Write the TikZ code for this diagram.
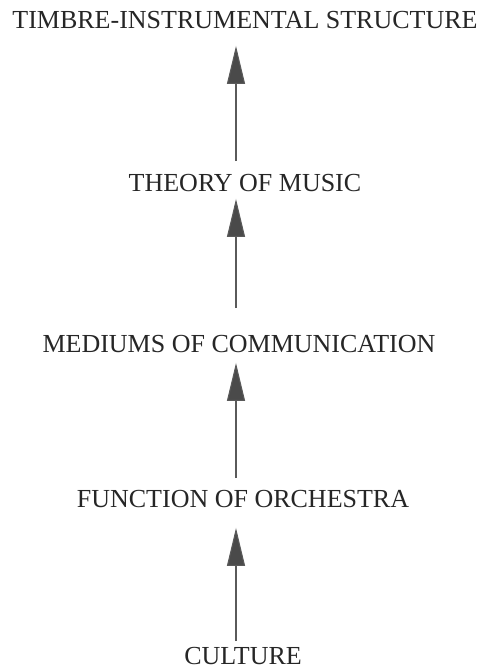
\documentclass[tikz,border=0pt]{standalone}
\usepackage{fontspec}
\setmainfont{Liberation Serif}
\usetikzlibrary{arrows.meta}
\definecolor{ink}{HTML}{262626}
\definecolor{shaft}{HTML}{5A5A5A}
\definecolor{head}{HTML}{4A4A4A}
\begin{document}
\begin{tikzpicture}[x=1pt,y=-1pt,
  lab/.style={inner sep=0pt, text=ink, font=\fontsize{26}{30}\selectfont},
  uparrow/.style={draw=shaft, line width=1.1pt,
    -{Triangle[length=38pt,width=18pt,fill=head]}}]
\useasboundingbox (0,0) rectangle (482,670);
\coordinate (ax) at (236,0);
\node[lab] (t1) at (245,20) {TIMBRE-INSTRUMENTAL STRUCTURE};
\node[lab] (t2) at (245,183) {THEORY OF MUSIC};
\node[lab] (t3) at (239,344) {MEDIUMS OF COMMUNICATION};
\node[lab] (t4) at (243,499) {FUNCTION OF ORCHESTRA};
\node[lab] (t5) at (243,656) {CULTURE};
\draw[uparrow, shorten <=13pt, shorten >=17pt] (t2.north -| ax) -- (t1.south -| ax);
\draw[uparrow, shorten <=27pt, shorten >=7pt] (t3.north -| ax) -- (t2.south -| ax);
\draw[uparrow, shorten <=12pt, shorten >=10pt] (t4.north -| ax) -- (t3.south -| ax);
\draw[uparrow, shorten <=6pt, shorten >=20pt] (t5.north -| ax) -- (t4.south -| ax);
\end{tikzpicture}
\end{document}
